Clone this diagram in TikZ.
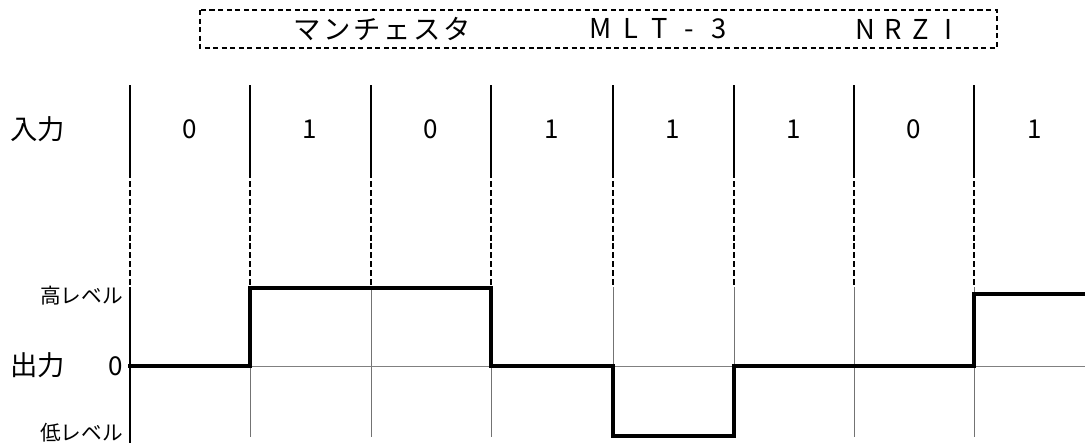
\documentclass[tikz,border=0pt]{standalone}
\usepackage{fontspec}
\setmainfont{Noto Sans CJK JP}
\newcommand\pchar[2]{\makebox[#1][c]{#2}}
\begin{document}
\begin{tikzpicture}[x=0.75pt,y=-0.75pt,
  sep/.style={black,line width=1pt},
  guide/.style={black,line width=1pt,dash pattern=on 4.5pt off 2.2pt},
  lower/.style={black!55,line width=0.75pt},
  axisline/.style={black,line width=1pt},
  zeroline/.style={black!50,line width=0.75pt},
  wave/.style={black,line width=3pt,line join=miter,line cap=rect},
  topbox/.style={black,line width=0.9pt,dash pattern=on 3.8pt off 2.6pt},
  boxtext/.style={inner sep=0pt,font=\fontsize{20.5}{24}\selectfont},
  bigtext/.style={inner sep=0pt,font=\fontsize{20.5}{24}\selectfont},
  digit/.style={inner sep=0pt,font=\fontsize{19.5}{22}\selectfont},
  small/.style={inner sep=0pt,font=\fontsize{15.5}{18}\selectfont},
]
\useasboundingbox (0,0) rectangle (1085,443);

% top legend box
\coordinate (boxA) at (200,10);
\coordinate (boxB) at (997,48);
\draw[topbox] (boxA) rectangle (boxB);
\node[boxtext] (manch) at (382,29) {\pchar{22.5pt}{マ}\pchar{22.5pt}{ン}\pchar{22.5pt}{チ}\pchar{22.5pt}{ェ}\pchar{22.5pt}{ス}\pchar{22.5pt}{タ}};
\node[boxtext] (mlt) at (660,29) {\pchar{22.1pt}{M}\pchar{22.1pt}{L}\pchar{22.1pt}{T}\pchar{22.1pt}{-}\pchar{22.1pt}{3}};
\node[boxtext] (nrzi) at (907,29) {\pchar{20.8pt}{N}\pchar{20.8pt}{R}\pchar{20.8pt}{Z}\pchar{20.8pt}{I}};

% column separators
\foreach \x [count=\i] in {130,250,371,491,613,734,854,974} {
  \coordinate (t\i) at (\x,85);
  \coordinate (m\i) at (\x,172);
  \coordinate (h\i) at (\x,287);
  \coordinate (b\i) at (\x,437);
  \draw[sep] (t\i) -- (m\i);
  \draw[guide] (m\i) -- (h\i);
}
\foreach \i in {2,...,8} { \draw[lower] (h\i) -- (b\i); }
\coordinate (axbot) at (130,443);
\draw[axisline] (h1) -- (axbot);

% input labels
\node[bigtext] (inlabel) at (38,129) {入力};
\foreach \x/\b [count=\i] in {190/0,310/1,431/0,552/1,673/1,794/1,914/0,1035/1} {
  \node[digit] (bit\i) at (\x,129) {\b};
}

% output axis
\coordinate (z0) at (130,366);
\coordinate (zend) at (1085,366);
\draw[zeroline] (z0) -- (zend);
\node[bigtext] (outlabel) at (38,365) {出力};
\node[digit,anchor=east] (zerolabel) at (123,366) {0};
\node[small,anchor=east] (hilabel) at (123,296) {高レベル};
\node[small,anchor=east] (lolabel) at (123,433) {低レベル};

% waveform
\coordinate (w0) at (130,366);
\coordinate (w1) at (250,366);
\coordinate (w2) at (250,288);
\coordinate (w3) at (491,288);
\coordinate (w4) at (491,366);
\coordinate (w5) at (613,366);
\coordinate (w6) at (613,436);
\coordinate (w7) at (734,436);
\coordinate (w8) at (734,366);
\coordinate (w9) at (974,366);
\coordinate (w10) at (974,294);
\coordinate (w11) at (1085,294);
\draw[wave] (w0) -- (w1) -- (w2) -- (w3) -- (w4) -- (w5) -- (w6) -- (w7) -- (w8) -- (w9) -- (w10) -- (w11);
\end{tikzpicture}
\end{document}
